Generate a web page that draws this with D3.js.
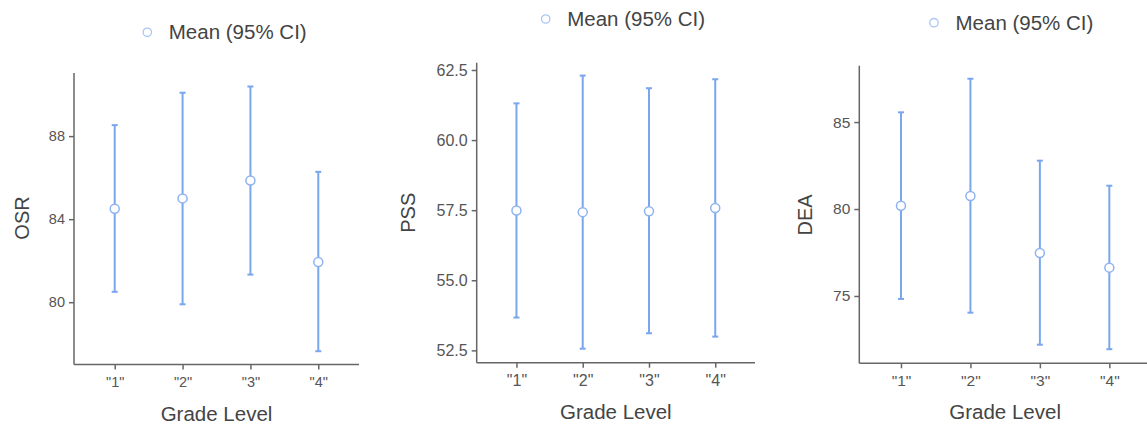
<!DOCTYPE html>
<html>
<head>
<meta charset="utf-8">
<script src="https://cdn.jsdelivr.net/npm/d3@7"></script>
<style>
  html, body { margin: 0; padding: 0; background: #fff; }
  svg { display: block; font-family: "Liberation Sans", Arial, sans-serif; }
</style>
</head>
<body>
<svg id="chart" width="1147" height="426"></svg>
<script>
// ── data ──
const grades = ["1", "2", "3", "4"];

const osrMean  = [84.5, 85.0, 85.86, 81.94];
const osrLower = [80.5, 79.9, 81.33, 77.64];
const osrUpper = [88.53, 90.09, 90.39, 86.28];

const pssMean  = [57.49, 57.43, 57.46, 57.58];
const pssLower = [53.67, 52.56, 53.11, 52.99];
const pssUpper = [61.31, 62.30, 61.85, 62.17];

const deaMean  = [80.19, 80.75, 77.47, 76.63];
const deaLower = [74.83, 74.04, 72.2, 71.94];
const deaUpper = [85.56, 87.49, 82.78, 81.34];

const osrTicks = [80, 84, 88];
const pssTicks = [52.5, 55.0, 57.5, 60.0, 62.5];
const deaTicks = [75, 80, 85];

const legendLabel = "Mean (95% CI)";
const xTitle = "Grade Level";

// ── layout per panel ──
const panels = [
  { name: "OSR", mean: osrMean, lower: osrLower, upper: osrUpper, ticks: osrTicks, fmt: d3.format("d"),
    domain: [77.0, 91.04], x0: 74, x1: 359, y0: 73, y1: 364.5, tickFont: 14.5,
    legend: [147.3, 32.3], ylab: [21.7, 218] },
  { name: "PSS", mean: pssMean, lower: pssLower, upper: pssUpper, ticks: pssTicks, fmt: d3.format(".1f"),
    domain: [52.06, 62.76], x0: 476.7, x1: 755, y0: 62.7, y1: 362.7, tickFont: 16,
    legend: [545.7, 19], ylab: [408, 212.7] },
  { name: "DEA", mean: deaMean, lower: deaLower, upper: deaUpper, ticks: deaTicks, fmt: d3.format("d"),
    domain: [71.13, 88.24], x0: 859.3, x1: 1151, y0: 65.7, y1: 363.3, tickFont: 15.5,
    legend: [934, 22.7], ylab: [805, 215] }
];

const blue = "#7aa6ee";
const axisColor = "#666";
const svg = d3.select("#chart");

panels.forEach((p) => {
  const g = svg.append("g");

  const x = d3.scalePoint().domain(grades).range([p.x0, p.x1]).padding(0.6);
  const y = d3.scaleLinear().domain(p.domain).range([p.y1, p.y0]);

  // axes
  const yAxis = g.append("g")
    .attr("transform", `translate(${p.x0},0)`)
    .call(d3.axisLeft(y).tickValues(p.ticks).tickFormat(p.fmt).tickSize(5).tickPadding(4));
  const xAxis = g.append("g")
    .attr("transform", `translate(0,${p.y1})`)
    .call(d3.axisBottom(x).tickFormat((d) => `"${d}"`).tickSize(5).tickPadding(7));

  [yAxis, xAxis].forEach((a) => {
    a.select(".domain").attr("stroke", axisColor).attr("stroke-width", 1.5);
    a.selectAll(".tick line").attr("stroke", axisColor).attr("stroke-width", 1.5);
    a.selectAll(".tick text")
      .attr("fill", "#555")
      .style("font-size", `${p.tickFont}px`)
      .style("font-family", "'Liberation Sans', Arial, sans-serif");
  });
  yAxis.select(".domain").attr("d", `M0,${p.y0}V${p.y1}`);
  xAxis.select(".domain").attr("d", `M${p.x0},0H${p.x1}`);

  // error bars
  const rows = grades.map((gr, i) => ({ g: gr, m: p.mean[i], lo: p.lower[i], hi: p.upper[i] }));
  const bars = g.append("g").selectAll("g").data(rows).join("g");
  bars.append("line")
    .attr("x1", (d) => x(d.g)).attr("x2", (d) => x(d.g))
    .attr("y1", (d) => y(d.lo)).attr("y2", (d) => y(d.hi))
    .attr("stroke", blue).attr("stroke-width", 2);
  ["lo", "hi"].forEach((k) => {
    bars.append("line")
      .attr("x1", (d) => x(d.g) - 3).attr("x2", (d) => x(d.g) + 3)
      .attr("y1", (d) => y(d[k])).attr("y2", (d) => y(d[k]))
      .attr("stroke", blue).attr("stroke-width", 2);
  });
  bars.append("circle")
    .attr("cx", (d) => x(d.g)).attr("cy", (d) => y(d.m))
    .attr("r", 4.5)
    .attr("fill", "#fff").attr("stroke", "#8db3f0").attr("stroke-width", 1.5);

  // legend
  g.append("circle")
    .attr("cx", p.legend[0]).attr("cy", p.legend[1]).attr("r", 4.2)
    .attr("fill", "none").attr("stroke", "#a9c6f5").attr("stroke-width", 1.3);
  g.append("text")
    .attr("x", p.legend[0] + 21.5).attr("y", p.legend[1] + 7)
    .attr("fill", "#444").style("font-size", "20.5px")
    .text(legendLabel);

  // titles
  g.append("text")
    .attr("x", (p.x0 + p.x1) / 2).attr("y", p.y1 + 56)
    .attr("text-anchor", "middle")
    .attr("fill", "#444").style("font-size", "20.5px")
    .text(xTitle);
  g.append("text")
    .attr("transform", `translate(${p.ylab[0] + 7},${p.ylab[1]}) rotate(-90)`)
    .attr("text-anchor", "middle")
    .attr("fill", "#444").style("font-size", "20px")
    .text(p.name);
});
</script>
</body>
</html>
